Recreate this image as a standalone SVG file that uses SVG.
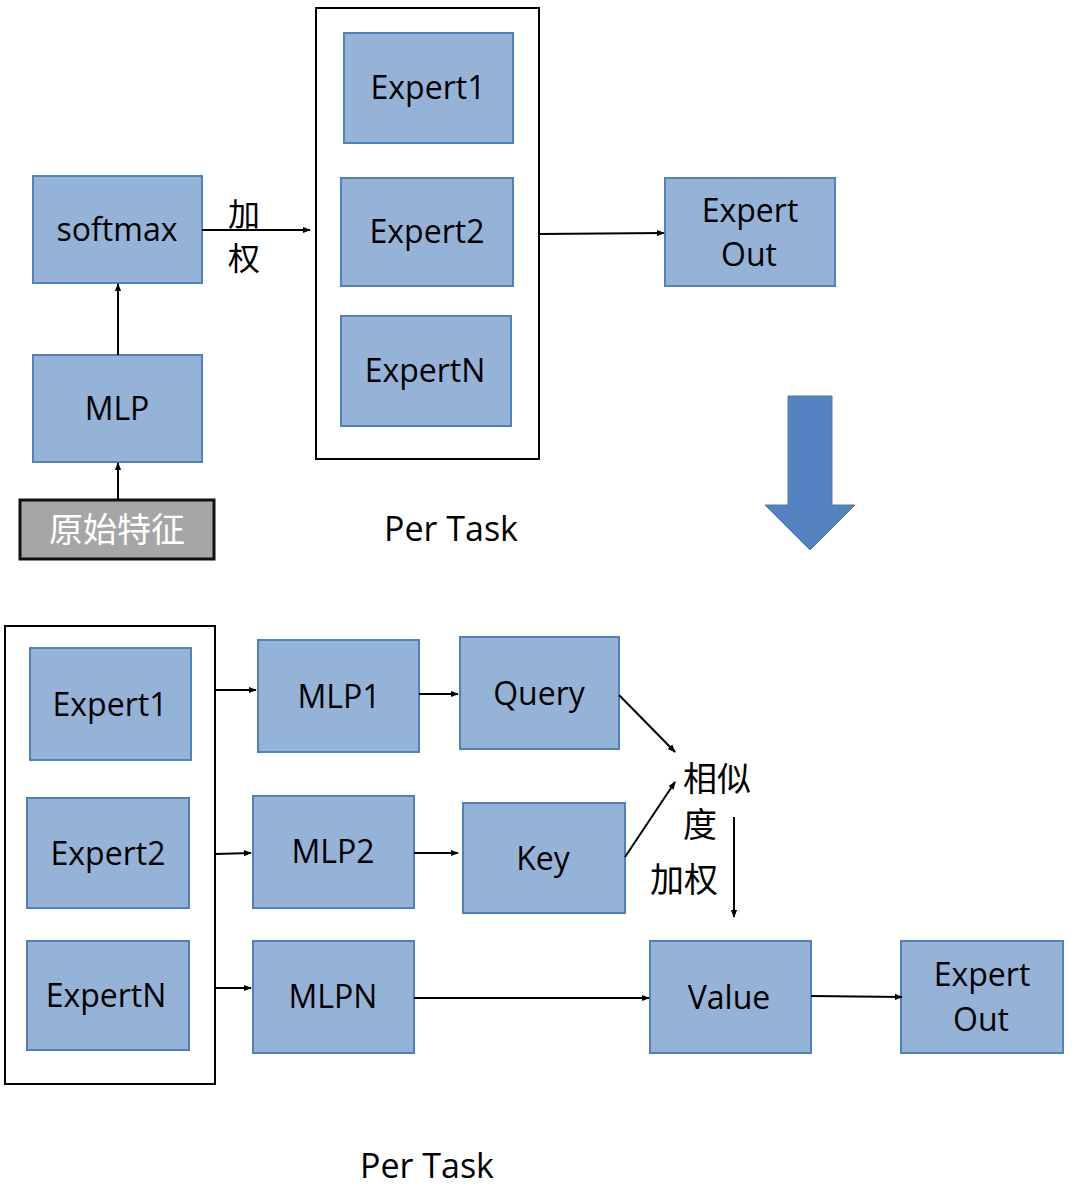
<svg xmlns="http://www.w3.org/2000/svg" width="1080" height="1203" viewBox="0 0 1080 1203">
<defs>
<style>
.n{fill:#95b3d7;stroke:#4f81bd;stroke-width:2}
.t{font-family:"Open Sans","Liberation Sans",sans-serif;font-size:32px;fill:#000;text-anchor:middle}
.c{font-family:"Noto Sans CJK SC",sans-serif;font-size:34px;fill:#000}
.e{stroke:#000;stroke-width:2;fill:none;marker-end:url(#ah)}
.box{fill:none;stroke:#000;stroke-width:2}
</style>
<marker id="ah" viewBox="0 0 10 10" refX="9" refY="5" markerWidth="4" markerHeight="4" orient="auto"><path d="M0,1 L10,5 L0,9 z" fill="#000"/></marker>
</defs>
<rect width="1080" height="1203" fill="#fff"/>
<g id="top-container"><rect class="box" x="316" y="8" width="223" height="451"/></g>
<g id="softmax"><rect class="n" x="33" y="176" width="169" height="107"/><text class="t" x="117" y="241">softmax</text></g>
<g id="mlp"><rect class="n" x="33" y="355" width="169" height="107"/><text class="t" x="117" y="420">MLP</text></g>
<g id="raw"><rect x="20" y="500" width="194" height="59" fill="#a6a6a6" stroke="#111" stroke-width="3"/><text class="c" x="117" y="542" style="fill:#fff" text-anchor="middle">原始特征</text></g>
<g id="t-expert1"><rect class="n" x="344" y="33" width="169" height="110"/><text class="t" x="428" y="99">Expert1</text></g>
<g id="t-expert2"><rect class="n" x="341" y="178" width="172" height="108"/><text class="t" x="427" y="243">Expert2</text></g>
<g id="t-expertN"><rect class="n" x="341" y="316" width="170" height="110"/><text class="t" x="425" y="382">ExpertN</text></g>
<g id="t-out"><rect class="n" x="665" y="178" width="170" height="108"/><text class="t" x="750" y="222">Expert</text><text class="t" x="749" y="266">Out</text></g>
<g id="label-top-weight"><text class="c" x="228" y="226" style="font-size:32px">加</text><text class="c" x="228" y="270" style="font-size:32px">权</text></g>
<g id="label-top-pertask"><text class="t" x="451" y="541" style="font-size:34px">Per Task</text></g>
<g id="big-arrow"><path d="M788,396 H832 V505 H855 L810,550 L765,505 H788 Z" fill="#5482c0" stroke="#4a76b0" stroke-width="1"/></g>
<g id="bottom-container"><rect class="box" x="5" y="626" width="210" height="458"/></g>
<g id="b-expert1"><rect class="n" x="30" y="648" width="161" height="112"/><text class="t" x="110" y="716">Expert1</text></g>
<g id="b-expert2"><rect class="n" x="27" y="798" width="162" height="110"/><text class="t" x="108" y="865">Expert2</text></g>
<g id="b-expertN"><rect class="n" x="27" y="941" width="162" height="109"/><text class="t" x="106" y="1007">ExpertN</text></g>
<g id="mlp1"><rect class="n" x="258" y="640" width="161" height="112"/><text class="t" x="339" y="708">MLP1</text></g>
<g id="mlp2"><rect class="n" x="253" y="796" width="161" height="112"/><text class="t" x="333" y="863">MLP2</text></g>
<g id="mlpN"><rect class="n" x="253" y="941" width="161" height="112"/><text class="t" x="333" y="1008">MLPN</text></g>
<g id="query"><rect class="n" x="460" y="637" width="159" height="112"/><text class="t" x="539" y="705">Query</text></g>
<g id="key"><rect class="n" x="463" y="803" width="162" height="110"/><text class="t" x="543" y="870">Key</text></g>
<g id="value"><rect class="n" x="650" y="941" width="161" height="112"/><text class="t" x="729" y="1009">Value</text></g>
<g id="b-out"><rect class="n" x="901" y="941" width="162" height="112"/><text class="t" x="982" y="986">Expert</text><text class="t" x="981" y="1031">Out</text></g>
<g id="label-sim"><text class="c" x="683" y="791">相似</text><text class="c" x="683" y="837">度</text></g>
<g id="label-weight"><text class="c" x="650" y="892">加权</text></g>
<g id="label-bottom-pertask"><text class="t" x="427" y="1178" style="font-size:34px">Per Task</text></g>
<g id="connectors">
<line class="e" x1="118" y1="500" x2="118" y2="463"/>
<line class="e" x1="118" y1="355" x2="118" y2="284"/>
<line class="e" x1="202" y1="230" x2="310" y2="230"/>
<line class="e" x1="539" y1="234" x2="664" y2="233"/>
<line class="e" x1="215" y1="690" x2="256" y2="690"/>
<line class="e" x1="215" y1="854" x2="251" y2="853"/>
<line class="e" x1="215" y1="988" x2="251" y2="988"/>
<line class="e" x1="419" y1="694" x2="458" y2="694"/>
<line class="e" x1="414" y1="853" x2="458" y2="853"/>
<line class="e" x1="619" y1="695" x2="675" y2="752"/>
<line class="e" x1="625" y1="857" x2="675" y2="782"/>
<line class="e" x1="734" y1="817" x2="734" y2="917"/>
<line class="e" x1="414" y1="998" x2="649" y2="998"/>
<line class="e" x1="811" y1="996" x2="902" y2="997"/>
</g>
</svg>
